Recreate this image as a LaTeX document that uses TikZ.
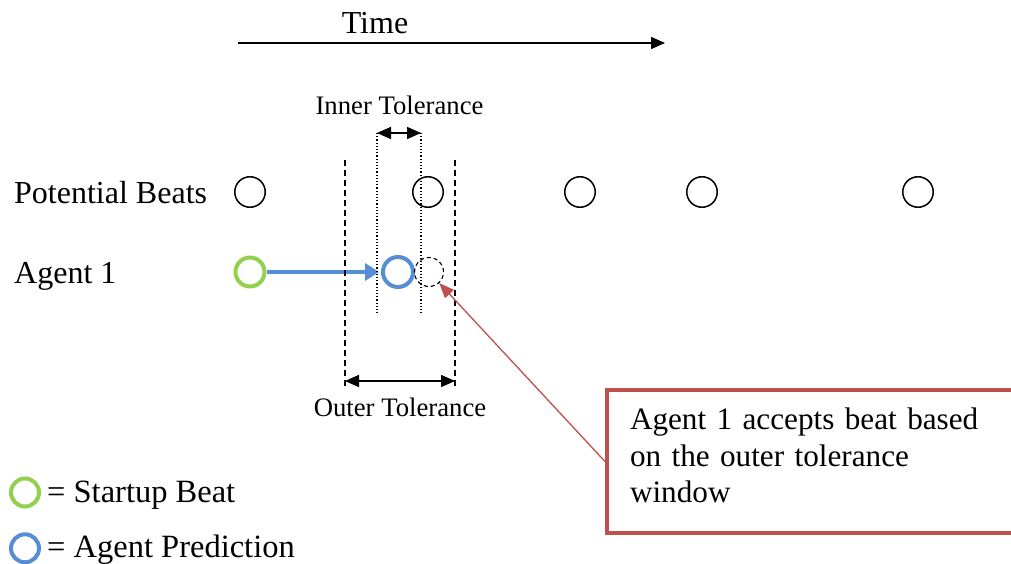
\documentclass[tikz,border=0pt]{standalone}
\usepackage{fontspec}
\setmainfont{Liberation Serif}
\usetikzlibrary{arrows.meta}
\definecolor{cgreen}{RGB}{146,208,80}
\definecolor{cblue}{RGB}{85,142,213}
\definecolor{cred}{RGB}{192,80,77}
\begin{document}
\begin{tikzpicture}[x=1pt,y=-1pt,
  bigtext/.style={font=\fontsize{32}{36.5}\selectfont, inner sep=0pt},
  smalltext/.style={font=\fontsize{26.7}{30}\selectfont, inner sep=0pt},
  beat/.style={circle, draw, line width=1.5pt, minimum size=30.5pt, inner sep=0pt},
  startbeat/.style={circle, draw=cgreen, line width=4pt, minimum size=29pt, inner sep=0pt},
  predbeat/.style={circle, draw=cblue, line width=4pt, minimum size=30pt, inner sep=0pt},
  ghostbeat/.style={circle, draw, dashed, dash pattern=on 4pt off 3pt, line width=1.1pt, minimum size=29pt, inner sep=0pt},
  legstart/.style={circle, draw=cgreen, line width=4pt, minimum size=28pt, inner sep=0pt},
  legpred/.style={circle, draw=cblue, line width=4pt, minimum size=28pt, inner sep=0pt},
  timearrow/.style={line width=1.5pt, -{Triangle[length=14pt,width=12pt]}},
  tolarrow/.style={line width=1.5pt, {Triangle[length=14pt,width=12pt]}-{Triangle[length=14pt,width=12pt]}},
  dottedline/.style={line width=1.2pt, dash pattern=on 1.2pt off 2pt},
  dashedline/.style={line width=1.5pt, dash pattern=on 6pt off 4pt},
  bluearrow/.style={draw=cblue, line width=4pt, -{Triangle[length=14pt,width=17pt]}, shorten >=2pt},
  redarrow/.style={draw=cred, line width=1.3pt, -{Triangle[length=15pt,width=12pt]}},
  callout/.style={draw=cred, line width=4pt, align=left, text width=380pt, inner xsep=23pt,
     minimum height=143pt, text depth=85pt, font=\fontsize{31.2}{36.5}\selectfont}
]
\useasboundingbox (0,0) rectangle (1011,564);

% time axis
\node[bigtext, anchor=base] (time) at (375,34) {Time};
\coordinate (t0) at (238,43);
\coordinate (t1) at (665,43);
\draw[timearrow] (t0) -- (t1);

% row labels
\node[bigtext, anchor=base west] (pbl) at (14,204) {Potential Beats};
\node[bigtext, anchor=base west] (a1l) at (14,283) {Agent 1};

% potential beats
\node[beat] (b1) at (250,192) {};
\node[beat] (b2) at (428,192) {};
\node[beat] (b3) at (580,192) {};
\node[beat] (b4) at (702,192) {};
\node[beat] (b5) at (918,192) {};

% agent row
\node[startbeat] (sb) at (250,272) {};
\node[predbeat] (pb) at (398,272) {};
\node[ghostbeat] (gb) at (429,272) {};
\draw[bluearrow] (sb) -- (pb);

% inner tolerance
\node[smalltext, anchor=base] (itl) at (399.5,115) {Inner Tolerance};
\coordinate (i1t) at (377,133);
\coordinate (i1b) at (377,313);
\coordinate (i2t) at (421,133);
\coordinate (i2b) at (421,313);
\draw[dottedline] (i1t) -- (i1b);
\draw[dottedline] (i2t) -- (i2b);
\draw[tolarrow] (i1t) -- (i2t);

% outer tolerance
\coordinate (o1t) at (345,160);
\coordinate (o1b) at (345,387);
\coordinate (o2t) at (455,160);
\coordinate (o2b) at (455,387);
\coordinate (o1a) at (345,381);
\coordinate (o2a) at (455,381);
\draw[dashedline] (o1t) -- (o1b);
\draw[dashedline] (o2t) -- (o2b);
\draw[tolarrow] (o1a) -- (o2a);
\node[smalltext, anchor=base] (otl) at (400,416) {Outer Tolerance};

% callout
\node[callout, anchor=west] (co) at (605,461.5) {Agent 1 accepts beat based\\on the outer tolerance\\window};
\draw[redarrow] (co.west) -- (gb);

% legend
\node[legstart] (ls) at (25,492.5) {};
\node[legpred] (lp) at (25,548.3) {};
\node[bigtext, anchor=base west, font=\fontsize{32.5}{36.5}\selectfont] (lst) at (47,502) {= Startup Beat};
\node[bigtext, anchor=base west, font=\fontsize{32.5}{36.5}\selectfont] (lpt) at (47,557) {= Agent Prediction};
\end{tikzpicture}
\end{document}
